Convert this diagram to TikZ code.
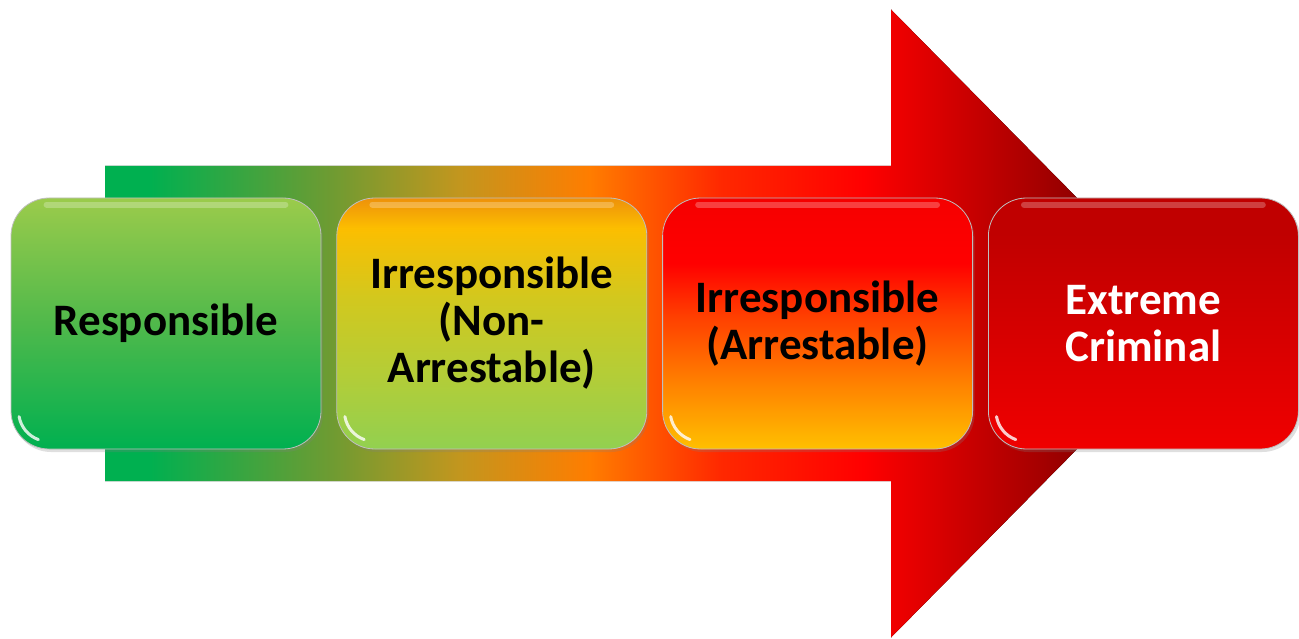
\documentclass[tikz,border=0pt]{standalone}
\usepackage{fontspec}
\setmainfont{Carlito}
\usepackage{tikz}
\usetikzlibrary{positioning,shadows}

\definecolor{verde}{RGB}{0,176,80}
\definecolor{verdeclaro}{RGB}{155,203,75}
\definecolor{oliva}{RGB}{110,155,50}
\definecolor{ocre}{RGB}{195,150,30}
\definecolor{naranja}{RGB}{255,125,0}
\definecolor{amarillo}{RGB}{255,192,0}
\definecolor{rojo}{RGB}{255,0,0}
\definecolor{rojooscuro}{RGB}{150,0,0}

% Degradados
\pgfdeclarehorizontalshading{flecha}{100bp}{
  color(0bp)=(verde); color(25bp)=(verde); color(27bp)=(verde); color(35.3bp)=(oliva);
  color(41.2bp)=(ocre); color(47.1bp)=(naranja); color(53.1bp)=(rgb,255:red,255;green,40;blue,0);
  color(59.6bp)=(rojo); color(69bp)=(rojooscuro); color(75bp)=(rgb,255:red,140;green,0;blue,0);
  color(100bp)=(rgb,255:red,140;green,0;blue,0)}
\pgfdeclareverticalshading{etapaA}{100bp}{
  color(0bp)=(verde); color(25bp)=(verde);
  color(50bp)=(rgb,255:red,80;green,185;blue,75);
  color(75bp)=(verdeclaro); color(100bp)=(verdeclaro)}
\pgfdeclareverticalshading{etapaB}{100bp}{
  color(0bp)=(rgb,255:red,146;green,208;blue,80); color(25bp)=(rgb,255:red,146;green,208;blue,80);
  color(40bp)=(rgb,255:red,180;green,205;blue,55);
  color(55bp)=(rgb,255:red,210;green,200;blue,30);
  color(69bp)=(rgb,255:red,252;green,190;blue,0);
  color(75bp)=(rgb,255:red,238;green,145;blue,10); color(100bp)=(rgb,255:red,238;green,145;blue,10)}
\pgfdeclareverticalshading{etapaC}{100bp}{
  color(0bp)=(amarillo); color(25bp)=(amarillo);
  color(40bp)=(rgb,255:red,255;green,120;blue,0);
  color(52bp)=(rgb,255:red,255;green,60;blue,0);
  color(62bp)=(rojo); color(75bp)=(rgb,255:red,245;green,0;blue,0);
  color(100bp)=(rgb,255:red,245;green,0;blue,0)}
\pgfdeclareverticalshading{etapaD}{100bp}{
  color(0bp)=(rgb,255:red,240;green,0;blue,0); color(25bp)=(rgb,255:red,240;green,0;blue,0);
  color(68bp)=(rgb,255:red,192;green,0;blue,0);
  color(75bp)=(rgb,255:red,192;green,0;blue,0); color(100bp)=(rgb,255:red,192;green,0;blue,0)}

\tikzset{
  etapa/.style={rounded corners=38pt, minimum width=310pt, minimum height=251pt,
    inner sep=0pt, align=center, draw=black!25, line width=0.8pt,
    font=\fontsize{45}{47}\selectfont\bfseries,
    drop shadow={opacity=.25, shadow xshift=2pt, shadow yshift=-3pt}},
  brillo/.style={white, line cap=round}
}

\begin{document}
\begin{tikzpicture}[x=1pt, y=1pt]
\useasboundingbox (0,0) rectangle (1299,638);

% Flecha
\fill[shading=flecha] (105,157) -- (891,157) -- (891,0.5) -- (1201,314.5)
  -- (891,628.5) -- (891,472) -- (105,472) -- cycle;

% Etapas
\node[etapa, shading=etapaA] (resp) at (166,314.5) {Responsible};
\node[etapa, shading=etapaB, right=15pt of resp] (noarr) {Irresponsible\\(Non-\\Arrestable)};
\node[etapa, shading=etapaC, right=15pt of noarr] (arr) {Irresponsible\\(Arrestable)};
\node[etapa, shading=etapaD, text=white, right=15pt of arr] (extremo) {Extreme\\Criminal};

% Brillos
\foreach \n in {resp,noarr,arr,extremo}{
  \draw[brillo, opacity=.25, line width=6pt]
    ([xshift=36pt,yshift=-7pt]\n.north west) -- ([xshift=-36pt,yshift=-7pt]\n.north east);
  \draw[brillo, opacity=.8, line width=3pt]
    ([xshift=8.5pt,yshift=32.8pt]\n.south west) arc[start angle=190, end angle=250, radius=30pt];
}

\end{tikzpicture}
\end{document}
